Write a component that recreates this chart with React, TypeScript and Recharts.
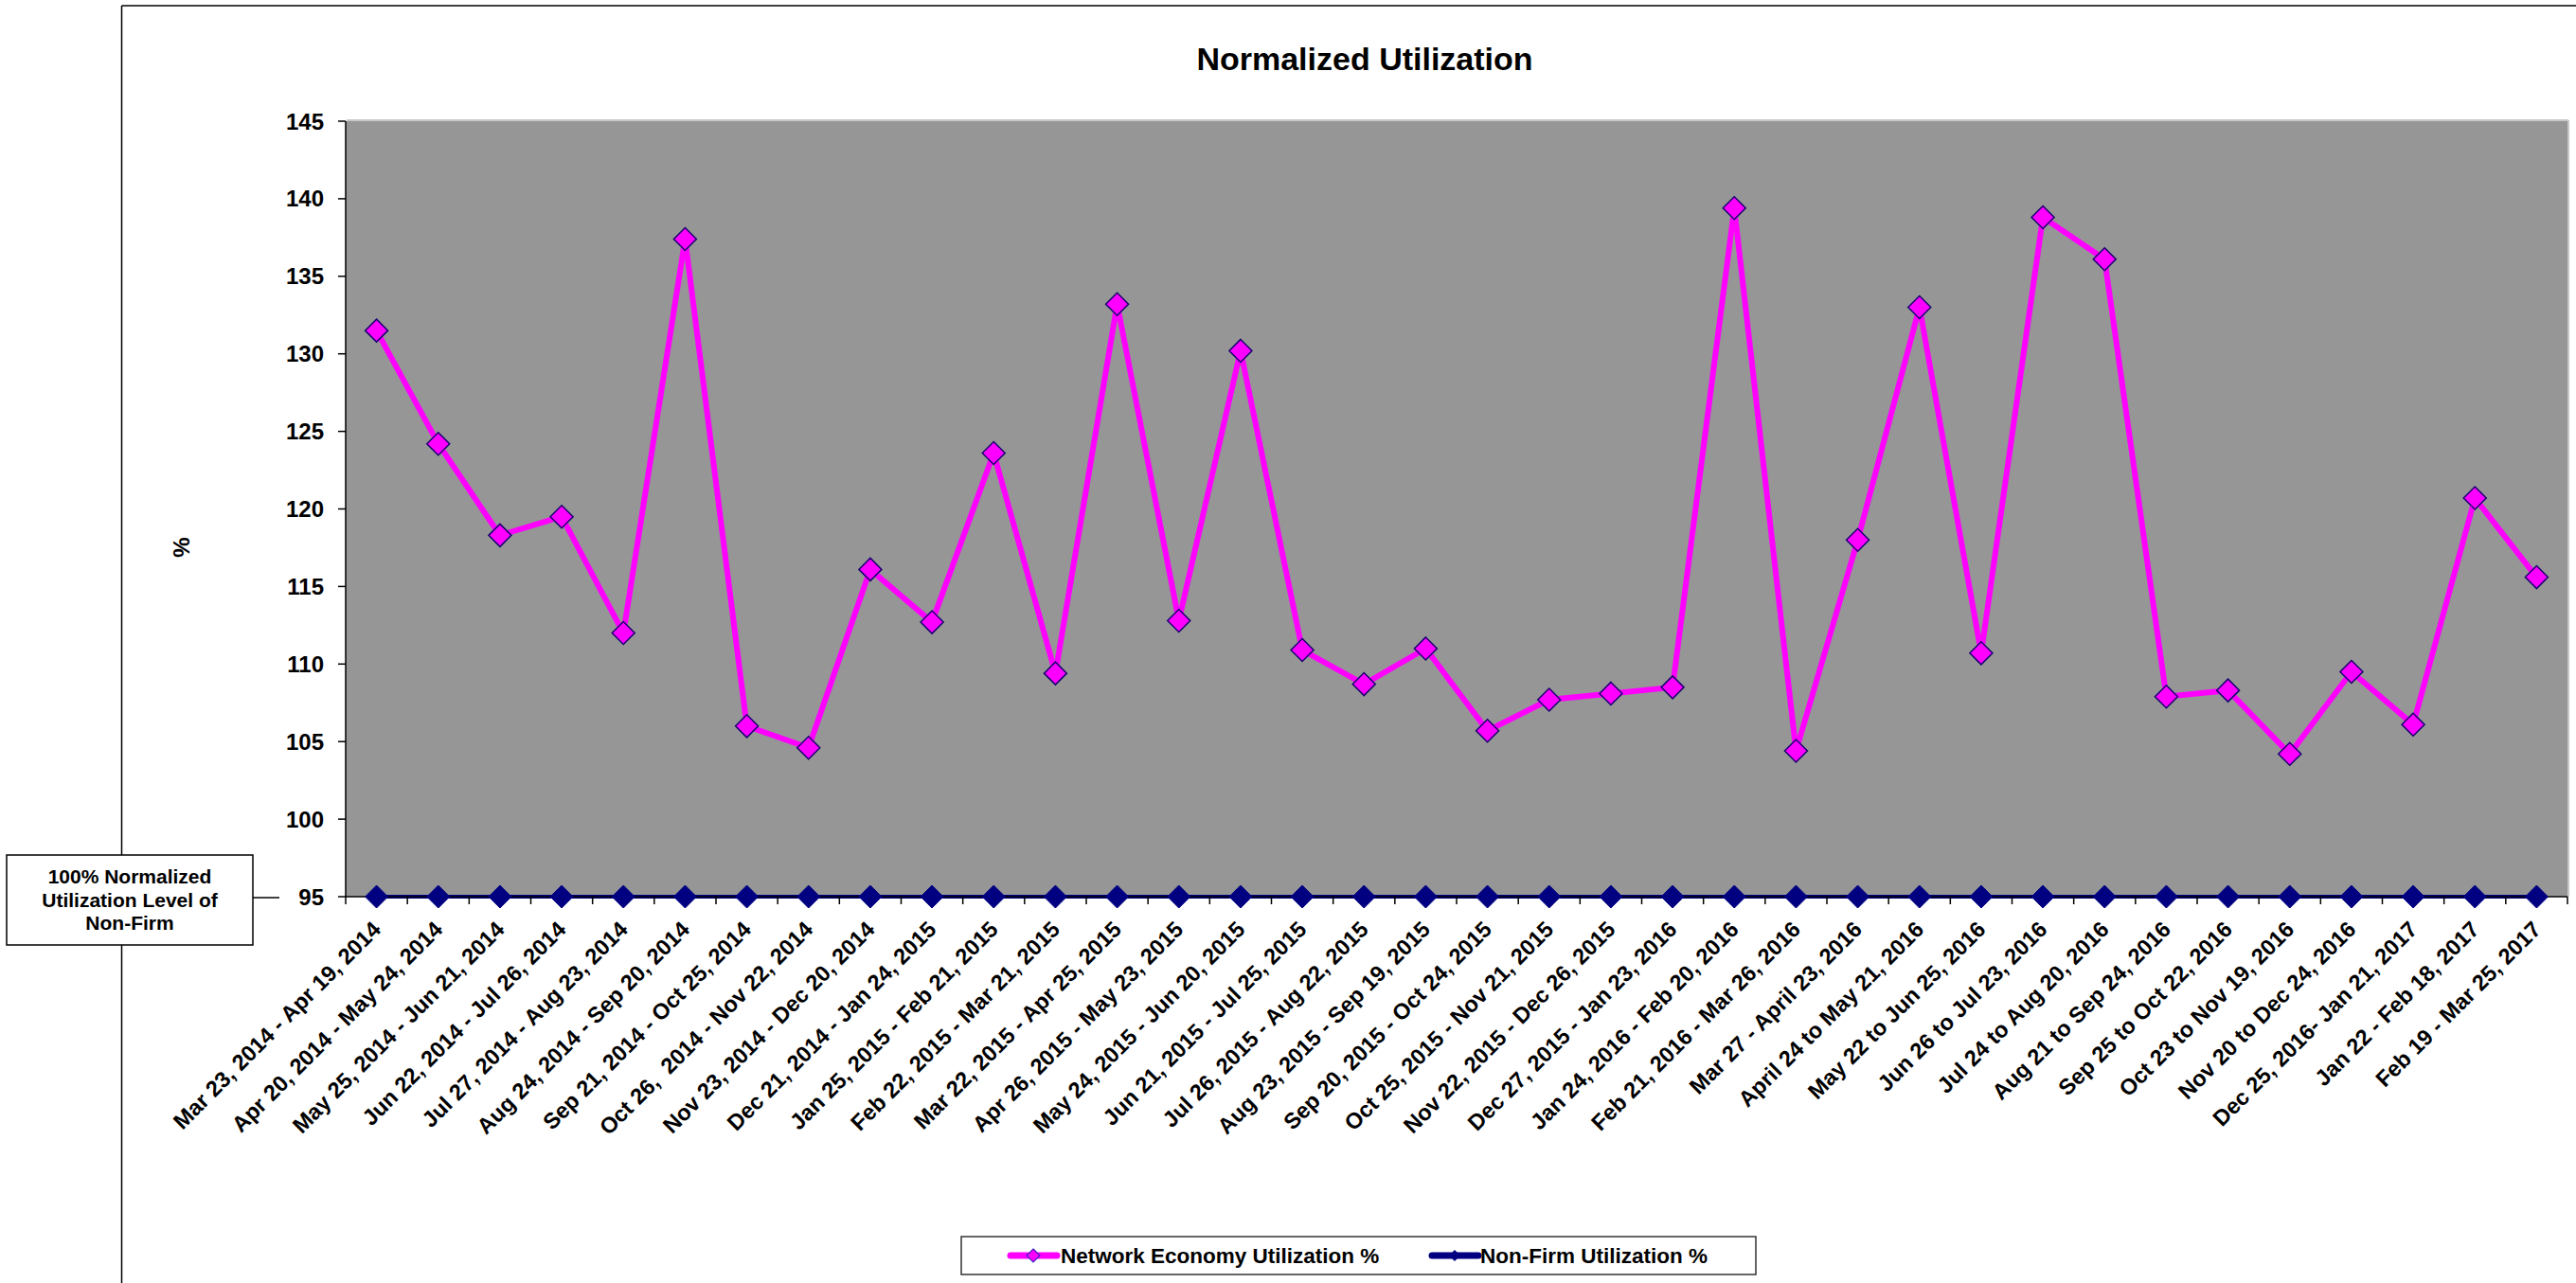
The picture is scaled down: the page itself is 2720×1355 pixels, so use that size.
import React from 'react';
import { LineChart, Line, XAxis, YAxis, CartesianGrid } from 'recharts';

const periods: string[] = [
  'Mar 23, 2014 - Apr 19, 2014',
  'Apr 20, 2014 - May 24, 2014',
  'May 25, 2014 - Jun 21, 2014',
  'Jun 22, 2014 - Jul 26, 2014',
  'Jul 27, 2014 - Aug 23, 2014',
  'Aug 24, 2014 - Sep 20, 2014',
  'Sep 21, 2014 - Oct 25, 2014',
  'Oct 26,  2014 - Nov 22, 2014',
  'Nov 23, 2014 - Dec 20, 2014',
  'Dec 21, 2014 - Jan 24, 2015',
  'Jan 25, 2015 - Feb 21, 2015',
  'Feb 22, 2015 - Mar 21, 2015',
  'Mar 22, 2015 - Apr 25, 2015',
  'Apr 26, 2015 - May 23, 2015',
  'May 24, 2015 - Jun 20, 2015',
  'Jun 21, 2015 - Jul 25, 2015',
  'Jul 26, 2015 - Aug 22, 2015',
  'Aug 23, 2015 - Sep 19, 2015',
  'Sep 20, 2015 - Oct 24, 2015',
  'Oct 25, 2015 - Nov 21, 2015',
  'Nov 22, 2015 - Dec 26, 2015',
  'Dec 27, 2015 - Jan 23, 2016',
  'Jan 24, 2016 - Feb 20, 2016',
  'Feb 21, 2016 - Mar 26, 2016',
  'Mar 27 - April 23, 2016',
  'April 24 to May 21, 2016',
  'May 22 to Jun 25, 2016',
  'Jun 26 to Jul 23, 2016',
  'Jul 24 to Aug 20, 2016',
  'Aug 21 to Sep 24, 2016',
  'Sep 25 to Oct 22, 2016',
  'Oct 23 to Nov 19, 2016',
  'Nov 20 to Dec 24, 2016',
  'Dec 25, 2016- Jan 21, 2017',
  'Jan 22 - Feb 18, 2017',
  'Feb 19 - Mar 25, 2017',
];

const networkEconomy: number[] = [
  131.5, 124.2, 118.3, 119.5, 112.0, 137.4, 106.0, 104.6, 116.1, 112.7,
  123.6, 109.4, 133.2, 112.8, 130.2, 110.9, 108.7, 111.0, 105.7, 107.7,
  108.1, 108.5, 139.4, 104.4, 118.0, 133.0, 110.7, 138.8, 136.1, 107.9,
  108.3, 104.2, 109.5, 106.1, 120.7, 115.6,
];

const nonFirm: number[] = [
  95, 95, 95, 95, 95, 95, 95, 95, 95, 95, 95, 95,
  95, 95, 95, 95, 95, 95, 95, 95, 95, 95, 95, 95,
  95, 95, 95, 95, 95, 95, 95, 95, 95, 95, 95, 95,
];

const yTicks: number[] = [95, 100, 105, 110, 115, 120, 125, 130, 135, 140, 145];

const titleText = 'Normalized Utilization';
const yLabelText = '%';
const networkName = 'Network Economy Utilization %';
const nonFirmName = 'Non-Firm Utilization %';
const calloutLines = ['100% Normalized', 'Utilization Level of', 'Non-Firm'];

const data = periods.map((p, i) => ({
  period: p,
  network: networkEconomy[i],
  nonFirm: nonFirm[i],
}));

const W = 2720;
const H = 1355;
const PLOT_LEFT = 365;
const PLOT_RIGHT = 2711;
const PLOT_TOP = 128;
const PLOT_BOTTOM = 947;
const HALF = (PLOT_RIGHT - PLOT_LEFT) / periods.length / 2;
const FONT = '"Liberation Sans", Arial, Helvetica, sans-serif';

const diamondPath = (cx: number, cy: number, r: number) =>
  `M${cx},${cy - r} L${cx + r},${cy} L${cx},${cy + r} L${cx - r},${cy} Z`;

const XTick = (props: any) => {
  const { x, y, payload, index } = props;
  const ax = x + 6;
  const ay = y + 36;
  return (
    <g>
      <line x1={x - HALF} x2={x - HALF} y1={y} y2={y + 8} stroke="#000" strokeWidth={1.5} />
      {index === periods.length - 1 ? (
        <line x1={x + HALF} x2={x + HALF} y1={y} y2={y + 8} stroke="#000" strokeWidth={1.5} />
      ) : null}
      <text
        x={ax}
        y={ay}
        transform={`rotate(-45, ${ax}, ${ay})`}
        textAnchor="end"
        fontFamily={FONT}
        fontWeight="bold"
        fontSize={23.5}
        fill="#000"
        style={{ whiteSpace: 'pre' }}
      >
        {payload.value}
      </text>
    </g>
  );
};

const MagentaDot = (p: any) => {
  if (p.cx == null || p.cy == null) return <g key={`m-${p.index}`} />;
  return (
    <path
      key={`m-${p.index}`}
      d={diamondPath(p.cx, p.cy, 12)}
      fill="#FF00FF"
      stroke="#1a0070"
      strokeWidth={1.5}
    />
  );
};

const NavyDot = (p: any) => {
  if (p.cx == null || p.cy == null) return <g key={`n-${p.index}`} />;
  return <path key={`n-${p.index}`} d={diamondPath(p.cx, p.cy, 12)} fill="#000080" stroke="#000080" strokeWidth={1} />;
};

export default function App() {
  return (
    <div style={{ position: 'absolute', left: 0, top: 0, width: W, height: H, background: '#fff' }}>
      <LineChart
        width={W}
        height={H}
        data={data}
        margin={{ top: PLOT_TOP, right: W - PLOT_RIGHT, left: 0, bottom: 0 }}
      >
        <CartesianGrid fill="#969696" stroke="none" horizontal={false} vertical={false} />
        <XAxis
          dataKey="period"
          interval={0}
          padding={{ left: HALF, right: HALF }}
          axisLine={{ stroke: '#000', strokeWidth: 1.5 }}
          tickLine={false}
          tickSize={0}
          tickMargin={0}
          height={H - PLOT_BOTTOM}
          tick={(p: any) => <XTick {...p} />}
        />
        <YAxis
          domain={[95, 145]}
          ticks={yTicks}
          interval={0}
          width={PLOT_LEFT}
          tickSize={8}
          tickMargin={15}
          axisLine={{ stroke: '#000', strokeWidth: 1.5 }}
          tickLine={{ stroke: '#000', strokeWidth: 1.5 }}
          tick={{ fontFamily: FONT, fontWeight: 'bold', fontSize: 24, fill: '#000' }}
        />
        <Line
          dataKey="nonFirm"
          name={nonFirmName}
          stroke="#000080"
          strokeWidth={4}
          dot={NavyDot}
          activeDot={false}
          isAnimationActive={false}
        />
        <Line
          dataKey="network"
          name={networkName}
          stroke="#FF00FF"
          strokeWidth={6}
          dot={MagentaDot}
          activeDot={false}
          isAnimationActive={false}
        />
      </LineChart>
      <svg
        width={W}
        height={H}
        style={{ position: 'absolute', left: 0, top: 0, pointerEvents: 'none' }}
      >
        <line x1={128.5} y1={6} x2={128.5} y2={H} stroke="#000" strokeWidth={1.5} />
        <line x1={128.5} y1={6} x2={W} y2={6} stroke="#000" strokeWidth={1.5} />
        <line x1={PLOT_LEFT + 1} y1={PLOT_TOP - 1} x2={PLOT_RIGHT + 1} y2={PLOT_TOP - 1} stroke="#c8c8c8" strokeWidth={2} />
        <line x1={PLOT_RIGHT + 1} y1={PLOT_TOP - 1} x2={PLOT_RIGHT + 1} y2={PLOT_BOTTOM} stroke="#c8c8c8" strokeWidth={2} />
        <text x={1441} y={74} textAnchor="middle" fontFamily={FONT} fontWeight="bold" fontSize={34} fill="#000">
          {titleText}
        </text>
        <text
          x={191}
          y={578}
          transform="rotate(-90, 191, 578)"
          textAnchor="middle"
          dominantBaseline="central"
          fontFamily={FONT}
          fontWeight="bold"
          fontSize={24}
          fill="#000"
        >
          {yLabelText}
        </text>
        <line x1={267} y1={948} x2={295} y2={948} stroke="#000" strokeWidth={1.5} />
        <rect x={7} y={903} width={260} height={95} fill="#fff" stroke="#000" strokeWidth={1.5} />
        {calloutLines.map((t, i) => (
          <text
            key={t}
            x={137}
            y={933 + i * 24.5}
            textAnchor="middle"
            fontFamily={FONT}
            fontWeight="bold"
            fontSize={21}
            fill="#000"
          >
            {t}
          </text>
        ))}
        <rect x={1015} y={1306} width={839} height={40} fill="#fff" stroke="#333" strokeWidth={1.5} />
        <line x1={1067} y1={1326} x2={1116} y2={1326} stroke="#FF00FF" strokeWidth={7} strokeLinecap="round" />
        <path d={diamondPath(1091, 1326, 7)} fill="#FF00FF" stroke="#4020c0" strokeWidth={1.2} />
        <text x={1120} y={1334} fontFamily={FONT} fontWeight="bold" fontSize={22.5} fill="#000">
          {networkName}
        </text>
        <line x1={1512} y1={1326} x2={1561} y2={1326} stroke="#000080" strokeWidth={7} strokeLinecap="round" />
        <path d={diamondPath(1536, 1326, 6)} fill="#000080" />
        <text x={1563} y={1334} fontFamily={FONT} fontWeight="bold" fontSize={22.5} fill="#000">
          {nonFirmName}
        </text>
      </svg>
    </div>
  );
}
